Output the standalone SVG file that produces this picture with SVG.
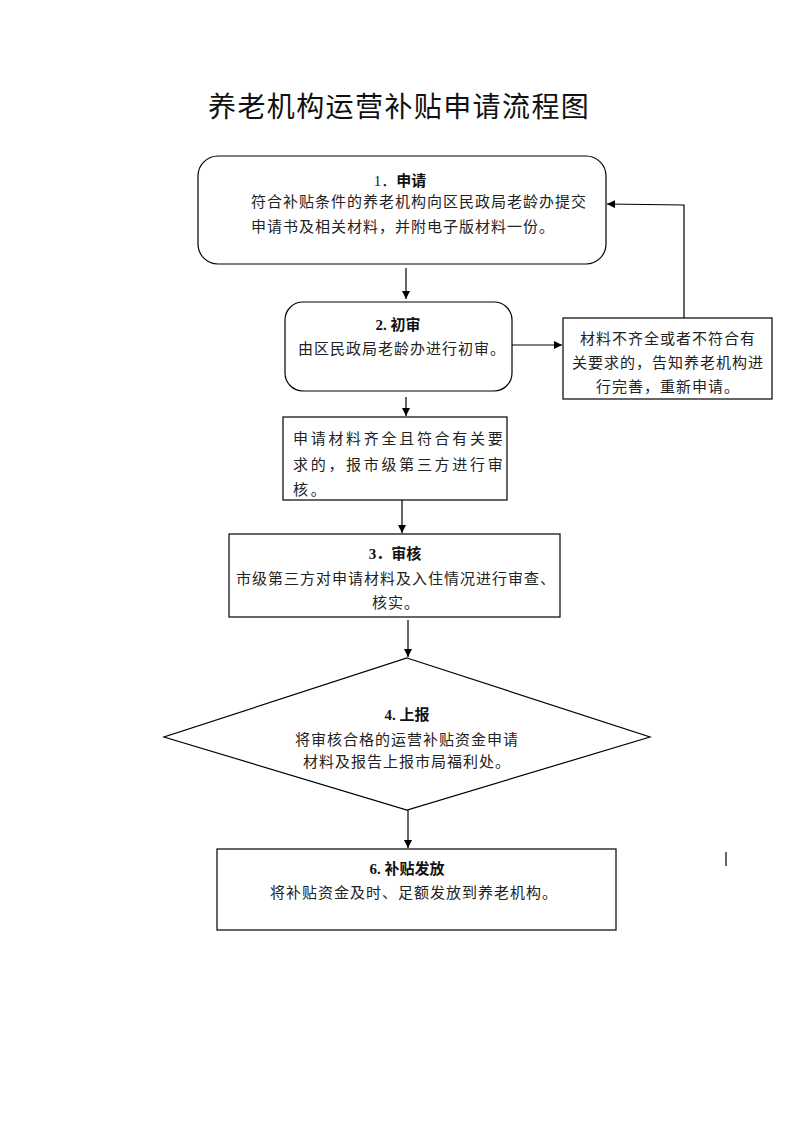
<svg xmlns="http://www.w3.org/2000/svg" width="793" height="1122" viewBox="0 0 793 1122">
<style>
.bg{fill:#fff}
.box{fill:#fff;stroke:#000;stroke-width:1.2}
.t{font-family:"Liberation Serif","Noto Sans CJK SC",serif;font-size:15px;letter-spacing:1px;fill:#222}
.h{font-family:"Liberation Serif","Noto Sans CJK SC",serif;font-size:15px;font-weight:bold;fill:#111}
.c{text-anchor:middle}
.title{font-family:"Liberation Serif","Noto Sans CJK SC",serif;font-size:28px;letter-spacing:1.4px;fill:#111}
.ln{fill:none;stroke:#000;stroke-width:1.2}
.w{letter-spacing:2.7px}
</style>
<defs>
<marker id="ah" viewBox="0 0 10 10" refX="10" refY="5" markerWidth="8" markerHeight="8" markerUnits="userSpaceOnUse" orient="auto">
<path d="M0,0 L10,5 L0,10 Z" fill="#000"/>
</marker>
</defs>
<rect class="bg" width="793" height="1122"/>
<text class="title" x="208" y="117">养老机构运营补贴申请流程图</text>

<g id="connectors">
<line class="ln" x1="406" y1="268" x2="406" y2="299" marker-end="url(#ah)"/>
<line class="ln" x1="512" y1="345" x2="562" y2="345" marker-end="url(#ah)"/>
<polyline class="ln" points="684,318 684,205 607,204" marker-end="url(#ah)"/>
<line class="ln" x1="406" y1="397" x2="406" y2="416" marker-end="url(#ah)"/>
<line class="ln" x1="402" y1="500" x2="402" y2="533" marker-end="url(#ah)"/>
<line class="ln" x1="408" y1="620" x2="408" y2="657" marker-end="url(#ah)"/>
<line class="ln" x1="408" y1="810" x2="408" y2="848" marker-end="url(#ah)"/>
<line class="ln" x1="726" y1="852" x2="726" y2="866"/>
</g>

<g id="n1">
<rect class="box" x="198" y="156" width="408" height="108" rx="20"/>
<text class="c" x="400" y="186"><tspan class="t" style="letter-spacing:0">1．</tspan><tspan class="h">申请</tspan></text>
<text class="t" x="251" y="207">符合补贴条件的养老机构向区民政局老龄办提交</text>
<text class="t" x="251" y="232">申请书及相关材料，并附电子版材料一份。</text>
</g>

<g id="n2">
<rect class="box" x="285" y="302" width="227" height="89" rx="18"/>
<text class="h c" x="398" y="330">2. 初审</text>
<text class="t" x="298" y="354">由区民政局老龄办进行初审。</text>
</g>

<g id="n2b">
<rect class="box" x="563" y="318" width="209" height="81"/>
<text class="t c" x="668" y="344">材料不齐全或者不符合有</text>
<text class="t c" x="668" y="368">关要求的，告知养老机构进</text>
<text class="t c" x="668" y="392">行完善，重新申请。</text>
</g>

<g id="n2c">
<rect class="box" x="283" y="417" width="224" height="83"/>
<text class="t w" x="293" y="444">申请材料齐全且符合有关要</text>
<text class="t w" x="293" y="470">求的，报市级第三方进行审</text>
<text class="t w" x="293" y="495">核。</text>
</g>

<g id="n3">
<rect class="box" x="229" y="534" width="331" height="83"/>
<text class="c" x="395" y="559"><tspan class="h">3．审核</tspan></text>
<text class="t c" x="396" y="584">市级第三方对申请材料及入住情况进行审查、</text>
<text class="t c" x="396" y="608">核实。</text>
</g>

<g id="n4">
<polygon class="box" points="407,658 650,737 407,810 164,737"/>
<text class="h c" x="407" y="720">4. 上报</text>
<text class="t c" x="407" y="745">将审核合格的运营补贴资金申请</text>
<text class="t c" x="407" y="767">材料及报告上报市局福利处。</text>
</g>

<g id="n6">
<rect class="box" x="217" y="849" width="399" height="81"/>
<text class="h c" x="407" y="874">6. 补贴发放</text>
<text class="t c" x="414" y="898">将补贴资金及时、足额发放到养老机构。</text>
</g>
</svg>
